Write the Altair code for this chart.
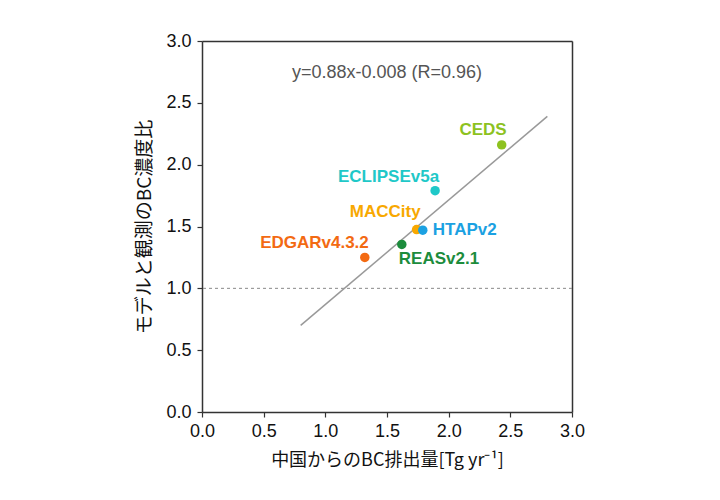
import altair as alt
import pandas as pd

# data
names = ["CEDS", "ECLIPSEv5a", "MACCity", "HTAPv2", "REASv2.1", "EDGARv4.3.2"]
emission = [2.43, 1.89, 1.74, 1.79, 1.62, 1.32]
ratio = [2.16, 1.79, 1.475, 1.47, 1.355, 1.25]
colors = ["#8DC21F", "#1FC8C8", "#F8A800", "#1BA1E2", "#1C8C3C", "#F36A12"]

fit_x = [0.8, 2.8]
fit_y = [0.70, 2.39]

ref_y = [1.0]
eq_text = ["y=0.88x-0.008 (R=0.96)"]
eq_x = [1.5]
eq_y = [2.74]

ticks = [0.0, 0.5, 1.0, 1.5, 2.0, 2.5, 3.0]

pts = pd.DataFrame({"name": names, "x": emission, "y": ratio, "c": colors})
fit = pd.DataFrame({"x": fit_x, "y": fit_y})
ref = pd.DataFrame({"y": ref_y})
eq = pd.DataFrame({"t": eq_text, "x": eq_x, "y": eq_y})
frame = pd.DataFrame({"x": [0.0, 3.0], "y": [0.0, 3.0]})

FONT = "Liberation Sans"
JP = "Noto Sans CJK JP"
AX = "#333"

xs = alt.Scale(domain=[0, 3], nice=False, zero=False)
ys = alt.Scale(domain=[0, 3], nice=False, zero=False)

xax = alt.Axis(values=ticks, format=".1f", grid=False, tickSize=5, labelPadding=5,
               labelFlush=False,
               title="中国からのBC排出量[Tg yr⁻¹]", titleFont=JP, titleFontSize=18,
               titleFontWeight="normal", titlePadding=11, labelFont=FONT, labelFontSize=18,
               labelColor="#111", titleColor="#111", domainColor=AX, tickColor=AX,
               domainWidth=1.5, tickWidth=1.2)
yax = alt.Axis(values=ticks, format=".1f", grid=False, tickSize=5, labelPadding=6,
               labelFlush=False,
               title="モデルと観測のBC濃度比", titleFont=JP, titleFontSize=19,
               titleFontWeight="normal", titlePadding=11, labelFont=FONT, labelFontSize=18,
               labelColor="#111", titleColor="#111", domainColor=AX, tickColor=AX,
               domainWidth=1.5, tickWidth=1.2)

base_x = alt.X("x:Q", scale=xs, axis=xax)
base_y = alt.Y("y:Q", scale=ys, axis=yax)

# top/right frame as plain axes with no ticks or labels
top_ax = alt.Axis(orient="top", labels=False, ticks=False, grid=False, title=None,
                  domainColor=AX, domainWidth=1.5)
right_ax = alt.Axis(orient="right", labels=False, ticks=False, grid=False, title=None,
                    domainColor=AX, domainWidth=1.5)
framer = alt.Chart(frame).mark_point(opacity=0).encode(
    x=alt.X("x:Q", scale=xs, axis=top_ax),
    y=alt.Y("y:Q", scale=ys, axis=right_ax),
)

refline = alt.Chart(ref).mark_rule(color="#888", strokeDash=[3, 3], strokeWidth=1).encode(
    y=alt.Y("y:Q", scale=ys)
)

fitline = alt.Chart(fit).mark_line(color="#999", strokeWidth=1.5).encode(
    x=base_x, y=base_y
)

points = alt.Chart(pts).mark_point(filled=True, size=90, opacity=1).encode(
    x=base_x, y=base_y, color=alt.Color("c:N", scale=None)
)

# label placement (style): name -> (align, dx, dy)
label_style = {
    "CEDS": ("right", 5, -15),
    "ECLIPSEv5a": ("right", 4, -14),
    "MACCity": ("right", 4, -18),
    "HTAPv2": ("left", 10, 0),
    "REASv2.1": ("left", -3, 15),
    "EDGARv4.3.2": ("right", 4, -14),
}

labels = []
for n, (al, dx, dy) in label_style.items():
    labels.append(
        alt.Chart(pts).transform_filter(alt.datum.name == n).mark_text(
            align=al, baseline="middle", dx=dx, dy=dy, font=FONT, fontSize=17,
            fontWeight="bold"
        ).encode(x=base_x, y=base_y, text="name:N", color=alt.Color("c:N", scale=None))
    )

eqtext = alt.Chart(eq).mark_text(font=FONT, fontSize=18, color="#555",
                                 align="center", baseline="middle").encode(
    x=base_x, y=base_y, text="t:N"
)

main = alt.layer(refline, fitline, points, *labels, eqtext)

chart = alt.layer(main, framer).resolve_axis(x="independent", y="independent").properties(
    width=370, height=371,
    autosize=alt.AutoSizeParams(type="none"),
    padding={"left": 194, "top": 33, "right": 130, "bottom": 75},
).configure_view(stroke=None).configure(background="white")

chart.save("out.html", embed_options={"renderer": "svg", "actions": False})
